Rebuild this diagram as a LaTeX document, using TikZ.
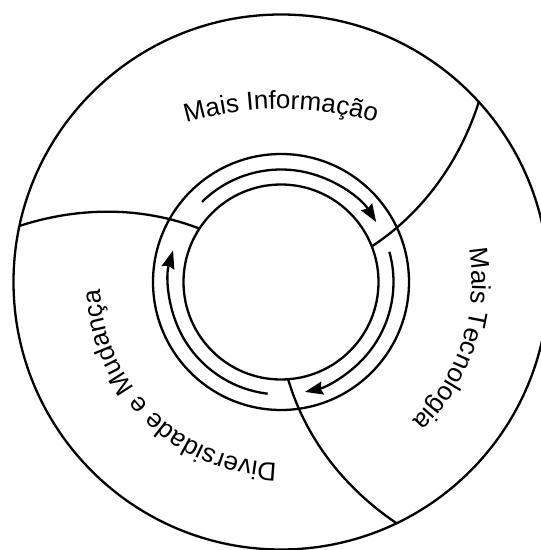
\documentclass[tikz,border=0pt]{standalone}
\usepackage{fontspec}
\setmainfont{Liberation Sans}
\usetikzlibrary{arrows.meta,decorations.text}
\newcommand\labfont{\fontsize{26}{31}\selectfont}
\begin{document}
\begin{tikzpicture}[x=1pt,y=1pt,
  ln/.style={line width=2.3pt, black},
  arr/.style={ln, -{Stealth[length=18pt,width=13pt,inset=2pt]}},
  lbl/.style={decorate, decoration={text along path, text align=center, text={#1}}}]
\useasboundingbox (0,0) rectangle (541,550);
\clip (0,0) rectangle (541,550);
\coordinate (C) at (281,268);
\coordinate (T) at (281,101);
% circles
\draw[ln] (C) circle[radius=267.5];
\draw[ln] (C) circle[radius=128];
\draw[ln] (C) circle[radius=97.5];
% arrow arcs
\draw[arr] ([shift={(134.6:112.5)}]C) arc[start angle=134.6, end angle=32.2, radius=112.5];
\draw[arr] ([shift={(15.6:112.5)}]C) arc[start angle=15.6, end angle=-77.7, radius=112.5];
\draw[arr] ([shift={(-96.8:112.5)}]C) arc[start angle=-96.8, end angle=-196.3, radius=112.5];
% dividers
\draw[ln] plot[domain=97.5:267.5, samples=60, variable=\t]
  ({281+\t*cos(146.8+21.1*(\t-97.5)/170)}, {268+\t*sin(146.8+21.1*(\t-97.5)/170)});
\draw[ln] plot[domain=97.5:267.5, samples=60, variable=\t]
  ({281+\t*cos(21.4+20.9*(\t-97.5)/170)}, {268+\t*sin(21.4+20.9*(\t-97.5)/170)});
\draw[ln] plot[domain=97.5:267.5, samples=60, variable=\t]
  ({281+\t*cos(-85.8+21.4*(\t-97.5)/170)}, {268+\t*sin(-85.8+21.4*(\t-97.5)/170)});
% labels
\path[lbl={|\labfont|Mais Informação}] ([shift={(120:340)}]T) arc[start angle=120, end angle=60, radius=340];
\path[lbl={|\labfont|Mais Tecnologia}] ([shift={(26.7:191)}]C) arc[start angle=26.7, end angle=-63.3, radius=191];
\path[lbl={|\labfont|Diversidade e Mudança}] ([shift={(-74.5:181)}]C) arc[start angle=-74.5, end angle=-194.5, radius=181];
\end{tikzpicture}
\end{document}
